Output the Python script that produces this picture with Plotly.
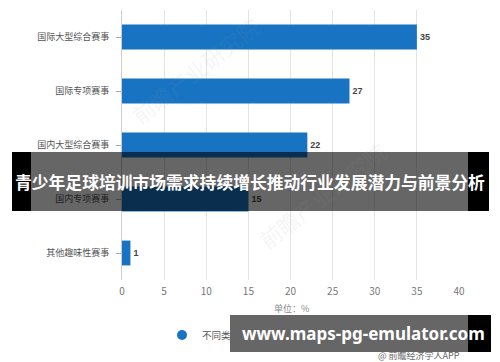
import plotly.graph_objects as go

# ---- data ----
categories = ["国际大型综合赛事", "国际专项赛事", "国内大型综合赛事", "国内专项赛事", "其他趣味性赛事"]
values = [35, 27, 22, 15, 1]
x_ticks = [0, 5, 10, 15, 20, 25, 30, 35, 40]
series_name = "不同类型冰雪赛事"
banner_text = "青少年足球培训市场需求持续增长推动行业发展潜力与前景分析"
site_text = "www.maps-pg-emulator.com"
source_text = "@ 前瞻经济学人APP"
unit_text = "单位：%"
watermark_text = "前瞻产业研究院"

W_PX, H_PX = 500, 362
L, R, T, B = 122, 459, 10, 280
PW, PH = R - L, B - T


def xp(px):
    return (px - L) / PW


def yp(py):
    return (B - py) / PH


CJK = "Noto Sans CJK SC"
BLUE = "#1874c3"

fig = go.Figure()
fig.add_trace(go.Bar(
    x=values, y=categories, orientation="h",
    marker=dict(color=BLUE, line=dict(width=0)),
    width=0.46,
    text=values, textposition="outside", cliponaxis=False,
    textfont=dict(family="Liberation Sans", size=9, color="#444444", weight="bold"),
    showlegend=False, hoverinfo="skip",
))
fig.add_trace(go.Scatter(
    x=[None], y=[None], mode="markers", name=series_name,
    marker=dict(color=BLUE, size=10, symbol="circle"),
    showlegend=True,
))

shapes = []
annotations = []

# watermarks
for cx, cy in [(195, 70), (322, 195)]:
    annotations.append(dict(
        x=xp(cx), y=yp(cy), xref="paper", yref="paper", text=watermark_text,
        xanchor="center", yanchor="middle",
        showarrow=False, textangle=-38,
        font=dict(family=CJK, size=22, color="rgba(150,150,150,0.11)"),
    ))

# unit label
annotations.append(dict(
    x=xp(291), y=yp(308), xref="paper", yref="paper", text=unit_text,
    xanchor="center", yanchor="middle",
    showarrow=False, font=dict(family=CJK, size=9, color="#888888"),
))
# source
annotations.append(dict(
    x=xp(462), y=yp(355), xref="paper", yref="paper", text=source_text,
    showarrow=False, xanchor="right", yanchor="middle",
    font=dict(family=CJK, size=9, color="#666666"),
))

# banner overlay
shapes.append(dict(type="rect", xref="paper", yref="paper", layer="above",
                   x0=xp(12), x1=xp(31), y0=yp(211), y1=yp(152),
                   fillcolor="black", line=dict(width=0)))
shapes.append(dict(type="rect", xref="paper", yref="paper", layer="above",
                   x0=xp(31), x1=xp(468), y0=yp(211), y1=yp(152),
                   fillcolor="rgba(0,0,0,0.6)", line=dict(width=0)))
shapes.append(dict(type="rect", xref="paper", yref="paper", layer="above",
                   x0=xp(468), x1=xp(489), y0=yp(211), y1=yp(152),
                   fillcolor="black", line=dict(width=0)))
annotations.append(dict(
    x=xp(250), y=yp(182), xref="paper", yref="paper", text=banner_text,
    xanchor="center", yanchor="middle",
    showarrow=False, font=dict(family=CJK, size=16.8, color="white", weight="bold"),
))

# bottom site box (annotation background so it covers the legend text)
annotations.append(dict(
    x=xp(230), y=yp(315), xref="paper", yref="paper", text=".",
    xanchor="left", yanchor="top", width=238, height=37,
    font=dict(family="Noto Sans", size=10, color="rgba(0,0,0,0)"),
    bgcolor="#666666", borderpad=0, borderwidth=0, showarrow=False,
))
shapes.append(dict(type="rect", xref="paper", yref="paper", layer="above",
                   x0=xp(468), x1=xp(491), y0=yp(352), y1=yp(315),
                   fillcolor="black", line=dict(width=0)))
annotations.append(dict(
    x=xp(240), y=yp(333), xref="paper", yref="paper", text=site_text,
    xanchor="left", yanchor="middle", showarrow=False,
    font=dict(family="Noto Sans", size=17, color="white", weight="bold"),
))

fig.update_layout(
    width=W_PX, height=H_PX, autosize=False,
    margin=dict(l=L, r=W_PX - R, t=T, b=H_PX - B, pad=0),
    paper_bgcolor="white", plot_bgcolor="white",
    font=dict(family=CJK, size=9, color="#555555"),
    bargap=0.54,
    xaxis=dict(
        range=[0, 40], tickvals=x_ticks, showgrid=True, gridcolor="#e3e3e3", gridwidth=1,
        zeroline=False, showline=False, ticks="", ticklabelstandoff=4,
        tickfont=dict(family=CJK, size=10, color="#777777"),
        fixedrange=True,
    ),
    yaxis=dict(
        categoryorder="array", categoryarray=categories, autorange="reversed",
        showgrid=False, zeroline=False, showline=True, linecolor="#cccccc", linewidth=1,
        ticks="outside", ticklen=5, tickcolor="#aaaaaa", ticklabelstandoff=5,
        tickfont=dict(family=CJK, size=9, color="#555555"),
        fixedrange=True,
    ),
    legend=dict(
        orientation="h", x=xp(162), y=yp(335), xanchor="left", yanchor="middle",
        font=dict(family=CJK, size=9.5, color="#555555"), bgcolor="rgba(0,0,0,0)",
    ),
    shapes=shapes,
    annotations=annotations,
)

fig.write_html("out.html", config={"displayModeBar": False},
               post_script="document.body.style.margin='0';")
